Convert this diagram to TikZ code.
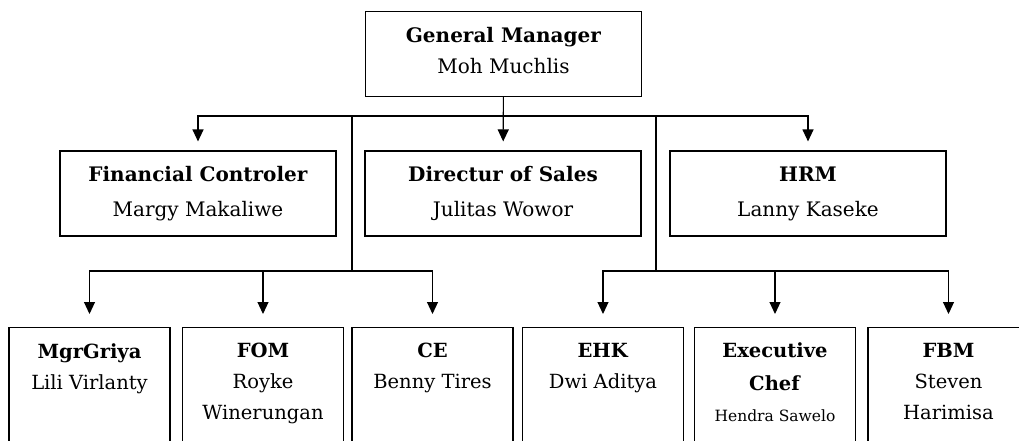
\documentclass[tikz,border=0pt]{standalone}
\usepackage{fontspec}
\setmainfont{DejaVu Serif}
\usetikzlibrary{arrows.meta,positioning}

\tikzset{
  box/.style={draw, line width=1.1pt, align=center, minimum width=276pt, minimum height=85pt, font=\fontsize{20}{33}\selectfont},
  unit/.style={draw, line width=1.1pt, minimum width=161pt, minimum height=140pt, anchor=north},
  unittext/.style={align=center, anchor=north, inner sep=0pt, font=\fontsize{19.5}{31}\selectfont},
  link/.style={line width=1.1pt},
  arr/.style={link, -{Triangle[width=11pt,length=12pt]}, shorten >=9pt},
  arrlow/.style={arr, shorten >=13pt}
}

\begin{document}
\begin{tikzpicture}[x=1pt,y=-1pt]
\useasboundingbox (0,0) rectangle (1019,441);
\clip (0,0) rectangle (1019,441);
% top level
\node[box, font=\fontsize{20}{31}\selectfont] (gm) at (503.5,54) {\textbf{General Manager}\\Moh Muchlis\rule[-7pt]{0pt}{7pt}};
% second level
\node[box, font=\fontsize{20}{35}\selectfont] (fc) at (198,193.5) {\textbf{Financial Controler}\\Margy Makaliwe};
\node[box, font=\fontsize{20}{35}\selectfont] (dos) at (503,193.5) {\textbf{Directur of Sales}\\Julitas Wowor};
\node[box, font=\fontsize{20}{35}\selectfont] (hrm) at (808,193.5) {\textbf{HRM}\\Lanny Kaseke};
% third level
\node[unit] (mg) at (89.5,327) {};
\node[unit] (fom) at (263,327) {};
\node[unit] (ce) at (432.5,327) {};
\node[unit] (ehk) at (603,327) {};
\node[unit] (chef) at (775,327) {};
\node[unit] (fbm) at (948.5,327) {};
\node[unittext, below=16pt of mg.north] (mgt) {\textbf{MgrGriya}\\Lili Virlanty};
\node[unittext, below=16pt of fom.north] (fomt) {\textbf{FOM}\\Royke\\Winerungan};
\node[unittext, below=16pt of ce.north] (cet) {\textbf{CE}\\Benny Tires};
\node[unittext, below=16pt of ehk.north] (ehkt) {\textbf{EHK}\\Dwi Aditya};
\node[unittext, below=15pt of chef.north] (cheft) {\textbf{Executive}\\[2pt]\textbf{Chef}\\{\fontsize{15.5}{28}\selectfont Hendra Sawelo}};
\node[unittext, below=16pt of fbm.north] (fbmt) {\textbf{FBM}\\Steven\\Harimisa};
% junctions
\coordinate (hub) at (503,116);
\coordinate (lt) at (352,116);
\coordinate (lb) at (352,271);
\coordinate (rt) at (656,116);
\coordinate (rb) at (656,271);
% connectors
\draw[arr] (gm) -- (dos);
\draw[arr] (hub) -| (fc);
\draw[arr] (hub) -| (hrm);
\draw[link] (lt) -- (lb);
\draw[link] (rt) -- (rb);
\draw[arrlow] (lb) -| (mg);
\draw[arrlow] (lb) -| (fom);
\draw[arrlow] (lb) -| (ce);
\draw[arrlow] (rb) -| (ehk);
\draw[arrlow] (rb) -| (chef);
\draw[arrlow] (rb) -| (fbm);
\end{tikzpicture}
\end{document}
